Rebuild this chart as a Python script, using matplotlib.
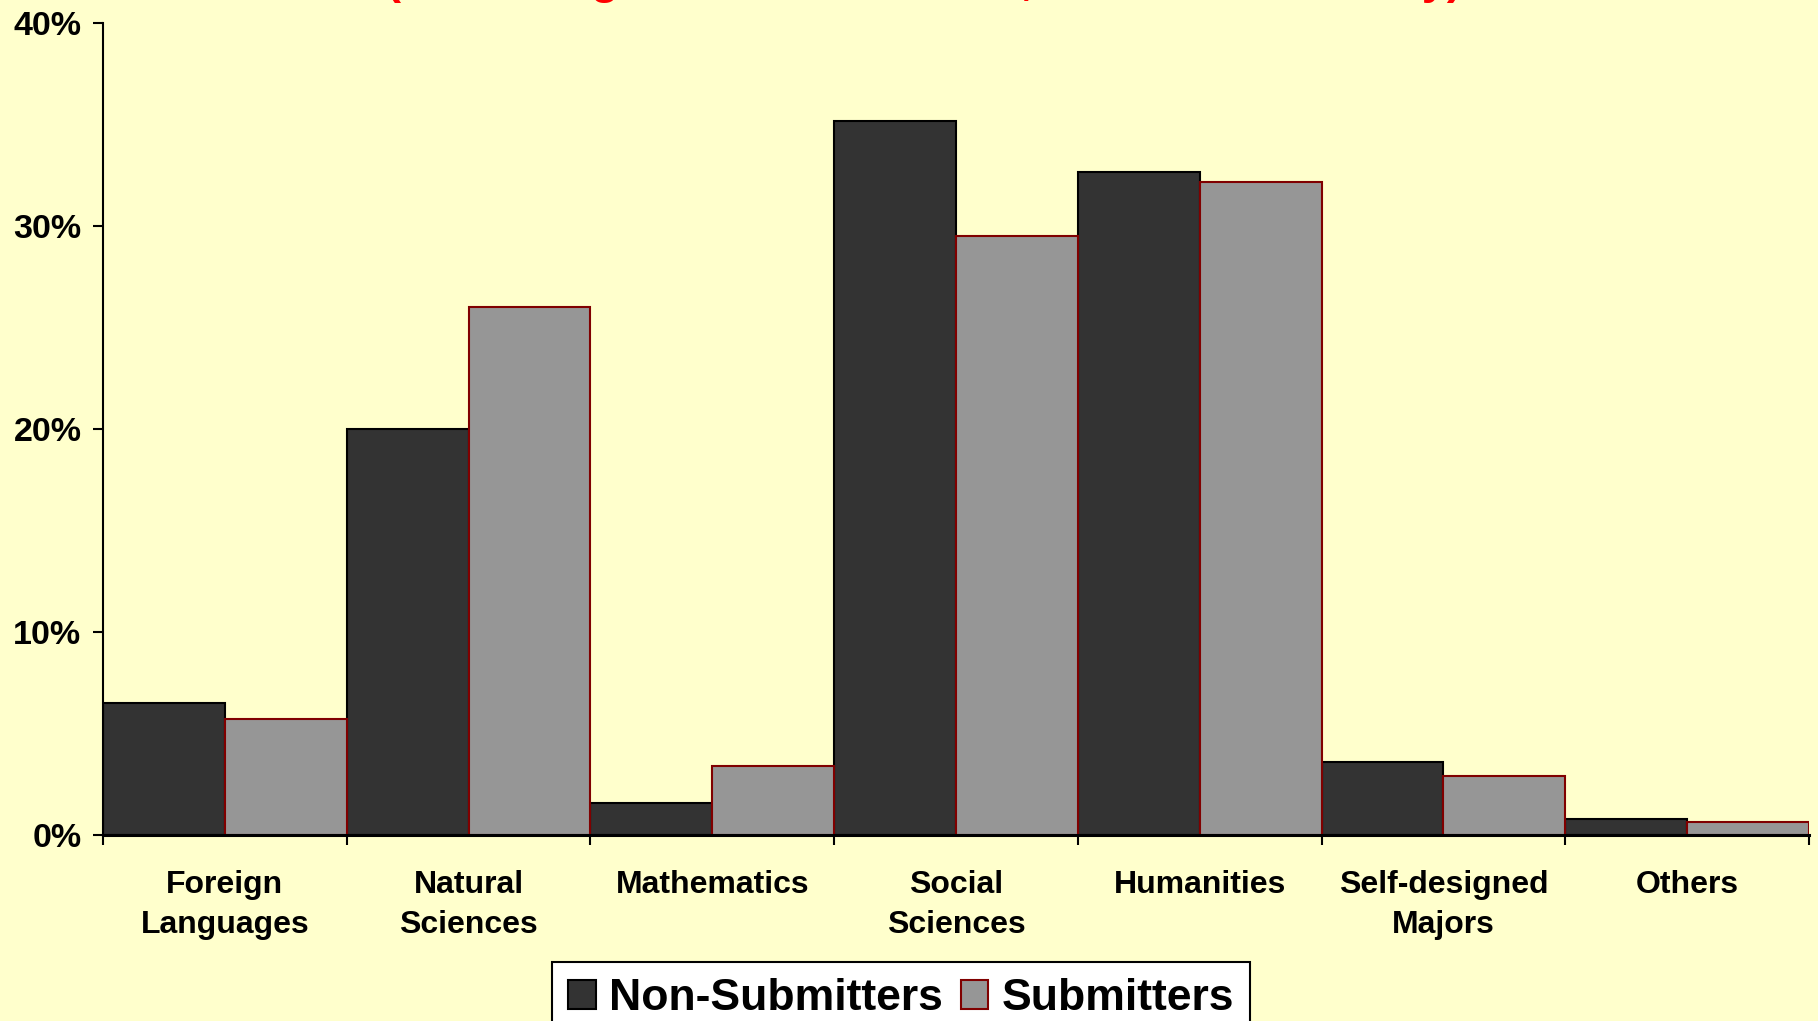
import matplotlib
matplotlib.use("Agg")
import matplotlib.pyplot as plt
from matplotlib.ticker import FuncFormatter, FixedLocator
import numpy as np

categories = ["Foreign\nLanguages", "Natural\nSciences", "Mathematics", "Social\nSciences",
              "Humanities", "Self-designed\nMajors", "Others"]
non_submitters = [6.5, 20.0, 1.6, 35.2, 32.7, 3.6, 0.8]
submitters = [5.7, 26.0, 3.4, 29.5, 32.2, 2.9, 0.65]
series_names = ["Non-Submitters", "Submitters"]
yticks = [0, 10, 20, 30, 40]
title_text = "(Percentage of Total Students, Class of 2005 Only)"

FONT = ["Liberation Sans", "DejaVu Sans"]
plt.rcParams["font.family"] = FONT
plt.rcParams["font.weight"] = "bold"

BG = "#FFFFCC"
fig = plt.figure(figsize=(18.18, 10.21), dpi=100, facecolor=BG)
ax = fig.add_axes([103/1818, 1-835/1021, (1809-103)/1818, (835-23.4)/1021])
ax.set_facecolor(BG)

x = np.arange(len(categories))
ax.bar(x - 0.5, non_submitters, width=0.5, align="edge", color="#333333",
       edgecolor="black", linewidth=1.5, label=series_names[0], zorder=2)
ax.bar(x, submitters, width=0.5, align="edge", color="#969696",
       edgecolor="#800000", linewidth=1.5, label=series_names[1], zorder=2)

ax.set_xlim(-0.5, len(categories) - 0.5)
ax.set_ylim(0, 40)

for s in ["top", "right"]:
    ax.spines[s].set_visible(False)
ax.spines["left"].set_linewidth(1.5)
ax.spines["bottom"].set_linewidth(2.2)
ax.spines["bottom"].set_zorder(3)

ax.set_yticks(yticks)
ax.yaxis.set_major_formatter(FuncFormatter(lambda v, p: f"{int(v)}%"))
ax.tick_params(axis="y", direction="out", length=7, width=1.5, pad=8.5,
               labelsize=24.5)

ax.xaxis.set_major_locator(FixedLocator(np.arange(-0.5, len(categories), 1.0)))
ax.xaxis.set_minor_locator(FixedLocator(x))
ax.set_xticklabels([], minor=False)
ax.set_xticklabels(categories, minor=True, fontsize=23, fontweight="bold", linespacing=1.42)
ax.tick_params(axis="x", which="major", direction="out", length=7, width=1.5)
ax.tick_params(axis="x", which="minor", length=0, pad=25.5)

for lab in ax.get_yticklabels():
    lab.set_fontweight("bold")

fig.text(924/1818, 1 + 6/1021, title_text, ha="center", va="baseline",
         color="#FF0000", fontsize=32.5, fontweight="bold")

leg = fig.legend(loc="upper center", bbox_to_anchor=(901/1818, 1 - 962/1021),
                 ncol=2, fontsize=32, frameon=True, fancybox=False, shadow=False,
                 handlelength=0.62, handleheight=0.62, handletextpad=0.3,
                 columnspacing=0.4, borderpad=0.36, borderaxespad=0)
leg.get_frame().set_edgecolor("black")
leg.get_frame().set_linewidth(1.5)
leg.get_frame().set_facecolor("white")
leg.get_frame().set_alpha(1)
for t in leg.get_texts():
    t.set_fontweight("bold")

fig.savefig("out.png", dpi=100, facecolor=BG)
